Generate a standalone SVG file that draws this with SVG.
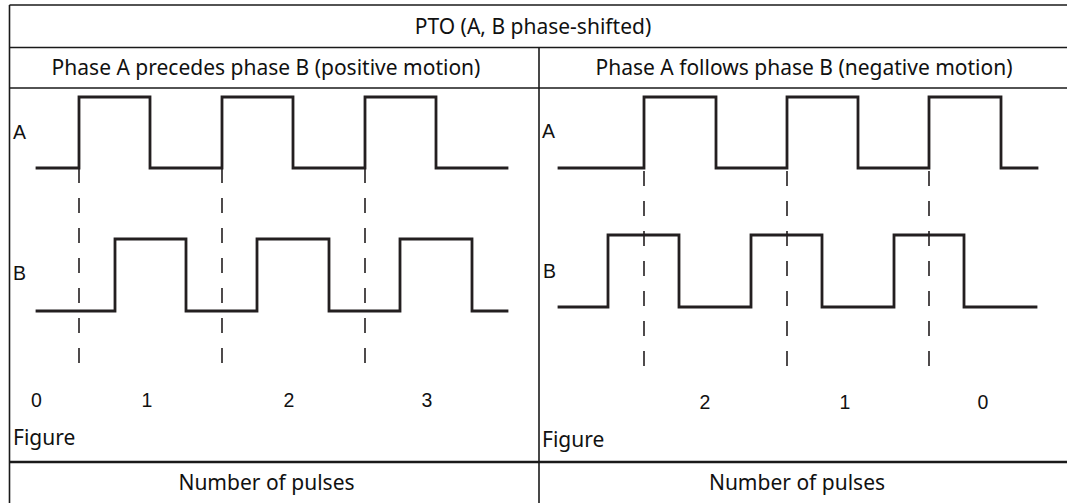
<svg xmlns="http://www.w3.org/2000/svg" width="1067" height="503" viewBox="0 0 1067 503">
<style>
.grid{stroke:#1a1a1a;stroke-width:1.6;fill:none}
.hdr{font-family:"Noto Sans","Open Sans",sans-serif;font-size:21px;fill:#111}
.lbl{font-family:"Liberation Sans",Arial,sans-serif;font-size:19.5px;fill:#111}
.wave{stroke:#231f20;stroke-width:2.8;fill:none;stroke-linejoin:miter;stroke-linecap:square}
.dash{stroke:#231f20;stroke-width:1.6;fill:none;stroke-dasharray:15 15}
</style>
<rect width="1067" height="503" fill="#fff"/>
<g id="table">
<line class="grid" x1="9.5" y1="5" x2="1067" y2="5"/>
<line class="grid" x1="9.5" y1="5" x2="9.5" y2="503"/>
<line class="grid" x1="9.5" y1="47.5" x2="1067" y2="47.5"/>
<line class="grid" x1="9.5" y1="88" x2="1067" y2="88"/>
<line class="grid" x1="539" y1="47.5" x2="539" y2="503"/>
<line class="grid" x1="9.5" y1="462" x2="1067" y2="462" style="stroke-width:2.4"/>
<text class="hdr" x="533" y="34" text-anchor="middle">PTO (A, B phase-shifted)</text>
<text class="hdr" x="266" y="75" text-anchor="middle">Phase A precedes phase B (positive motion)</text>
<text class="hdr" x="804" y="75" text-anchor="middle">Phase A follows phase B (negative motion)</text>
<text class="hdr" x="266.5" y="490" text-anchor="middle">Number of pulses</text>
<text class="hdr" x="797" y="490" text-anchor="middle">Number of pulses</text>
</g>
<g id="left-panel">
<text class="lbl" x="13" y="139">A</text>
<text class="lbl" x="13" y="280">B</text>
<path class="wave" d="M37,168 H79 V97 H150 V168 H222 V97 H293 V168 H365 V97 H436 V168 H507"/>
<path class="wave" d="M37,311 H115 V239 H186 V311 H257 V239 H329 V311 H400 V239 H472 V311 H507"/>
<text class="lbl" x="36.5" y="407" text-anchor="middle">0</text>
<text class="lbl" x="147" y="407" text-anchor="middle">1</text>
<text class="lbl" x="289" y="407" text-anchor="middle">2</text>
<text class="lbl" x="427" y="407" text-anchor="middle">3</text>
<text class="hdr" x="13" y="445">Figure</text>
</g>
<g id="right-panel">
<text class="lbl" x="542" y="138">A</text>
<text class="lbl" x="543" y="278">B</text>
<path class="wave" d="M559,168 H644 V97 H716 V168 H787 V97 H858 V168 H929 V97 H1001 V168 H1037"/>
<path class="wave" d="M559,307 H608 V235 H679 V307 H751 V235 H822 V307 H894 V235 H964 V307 H1036"/>
<text class="lbl" x="705" y="409" text-anchor="middle">2</text>
<text class="lbl" x="845" y="409" text-anchor="middle">1</text>
<text class="lbl" x="983" y="409" text-anchor="middle">0</text>
<text class="hdr" x="542" y="447">Figure</text>
</g>
<g id="connectors">
<line class="dash" x1="79" y1="168" x2="79" y2="364"/>
<line class="dash" x1="222" y1="168" x2="222" y2="364"/>
<line class="dash" x1="365" y1="168" x2="365" y2="364"/>
<line class="dash" x1="644" y1="171" x2="644" y2="367"/>
<line class="dash" x1="787" y1="171" x2="787" y2="367"/>
<line class="dash" x1="929" y1="171" x2="929" y2="367"/>
</g>
</svg>
